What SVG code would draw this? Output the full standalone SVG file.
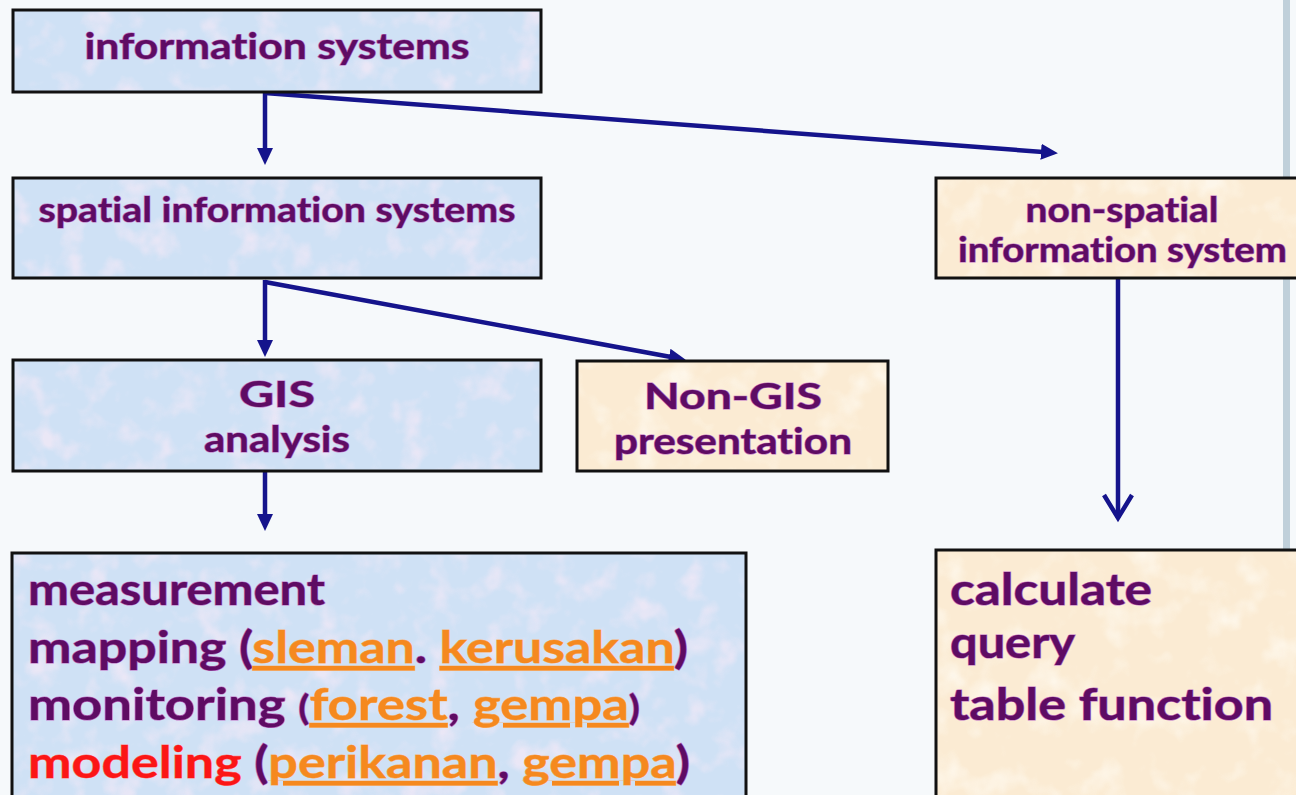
<svg xmlns="http://www.w3.org/2000/svg" width="1296" height="795" viewBox="0 0 1296 795">
  <defs>
    <filter id="texBlue" x="0" y="0" width="100%" height="100%">
      <feTurbulence type="fractalNoise" baseFrequency="0.035" numOctaves="3" seed="4" result="n"/>
      <feColorMatrix in="n" type="matrix" values="0 0 0 0 0.92  0 0 0 0 0.82  0 0 0 0 0.93  3 0 0 0 -1.5" result="c"/>
      <feComposite in="c" in2="SourceGraphic" operator="in"/>
    </filter>
    <filter id="texBeige" x="0" y="0" width="100%" height="100%">
      <feTurbulence type="fractalNoise" baseFrequency="0.03" numOctaves="3" seed="9" result="n"/>
      <feColorMatrix in="n" type="matrix" values="0 0 0 0 1  0 0 0 0 0.97  0 0 0 0 0.9  3 0 0 0 -1.55" result="c"/>
      <feComposite in="c" in2="SourceGraphic" operator="in"/>
    </filter>
    <marker id="tri" markerUnits="userSpaceOnUse" markerWidth="18" markerHeight="18" refX="2" refY="8" orient="auto" viewBox="0 0 18 16">
      <path d="M0,0 L17,8 L0,16 z" fill="#15148c"/>
    </marker>
    <marker id="vee" markerUnits="userSpaceOnUse" markerWidth="32" markerHeight="32" refX="26" refY="16" orient="auto" viewBox="0 0 32 32">
      <path d="M3,2 L26,16 L3,30" fill="none" stroke="#15148c" stroke-width="4.5" stroke-linejoin="miter"/>
    </marker>
  </defs>
  <style>
    .box { stroke: #111; stroke-width: 3; }
    .blue { fill: #cfe1f5; }
    .beige { fill: #fbebd3; }
    .tex { fill: #000; stroke: none; }
    .lbl { font-family: Lato, "Open Sans", "DejaVu Sans", sans-serif; font-weight: 700; font-variant-ligatures: none; fill: #5e0c63; stroke: #c070c4; stroke-width: 1.2; paint-order: stroke; }
    .or { fill: #f5891f; stroke: #f8b070; stroke-width: 0.8; text-decoration: underline; }
    .red { fill: #fb1616; stroke: #ff8080; stroke-width: 0.8; }
    .conn { stroke: #15148c; stroke-width: 4.5; fill: none; }
  </style>

  <rect x="0" y="0" width="1296" height="795" fill="#f6f9fb"/>
  <rect x="1283" y="0" width="7" height="552" fill="#c0d0da"/>

  <g id="connectors">
    <path class="conn" d="M265,93 L265,150" marker-end="url(#tri)"/>
    <path class="conn" d="M265,93 L1043,152" marker-end="url(#tri)"/>
    <path class="conn" d="M265,280 L265,342" marker-end="url(#tri)"/>
    <path class="conn" d="M265,282 L671,357" marker-end="url(#tri)"/>
    <path class="conn" d="M265,472 L265,516" marker-end="url(#tri)"/>
    <path class="conn" d="M1118,278 L1118,518" marker-end="url(#vee)"/>
  </g>

  <g id="node-information-systems">
    <rect class="box blue" x="13" y="10" width="528" height="82"/>
    <rect class="tex" x="15" y="12" width="524" height="78" filter="url(#texBlue)" opacity="0.7"/>
    <text class="lbl" x="277" y="59" font-size="37" text-anchor="middle" textLength="385" lengthAdjust="spacingAndGlyphs">information systems</text>
  </g>

  <g id="node-spatial">
    <rect class="box blue" x="13" y="178" width="528" height="100"/>
    <rect class="tex" x="15" y="180" width="524" height="96" filter="url(#texBlue)" opacity="0.7"/>
    <text class="lbl" x="277" y="222" font-size="34" text-anchor="middle" textLength="477" lengthAdjust="spacingAndGlyphs">spatial information systems</text>
  </g>

  <g id="node-gis">
    <rect class="box blue" x="13" y="360" width="528" height="111"/>
    <rect class="tex" x="15" y="362" width="524" height="107" filter="url(#texBlue)" opacity="0.7"/>
    <text class="lbl" x="277" y="407" font-size="36" text-anchor="middle" textLength="76" lengthAdjust="spacingAndGlyphs">GIS</text>
    <text class="lbl" x="277" y="452" font-size="36" text-anchor="middle" textLength="146" lengthAdjust="spacingAndGlyphs">analysis</text>
  </g>

  <g id="node-non-gis">
    <rect class="box beige" x="577" y="361" width="311" height="110"/>
    <rect class="tex" x="579" y="363" width="307" height="106" filter="url(#texBeige)" opacity="0.7"/>
    <text class="lbl" x="733" y="409" font-size="37" text-anchor="middle" textLength="178" lengthAdjust="spacingAndGlyphs">Non-GIS</text>
    <text class="lbl" x="733" y="454" font-size="37" text-anchor="middle" textLength="238" lengthAdjust="spacingAndGlyphs">presentation</text>
  </g>

  <g id="node-non-spatial">
    <rect class="box beige" x="936" y="178" width="380" height="100"/>
    <rect class="tex" x="938" y="180" width="376" height="96" filter="url(#texBeige)" opacity="0.7"/>
    <text class="lbl" x="1122" y="222" font-size="34" text-anchor="middle" textLength="193" lengthAdjust="spacingAndGlyphs">non-spatial</text>
    <text class="lbl" x="958" y="262" font-size="34" textLength="329" lengthAdjust="spacingAndGlyphs">information system</text>
  </g>

  <g id="node-gis-functions">
    <rect class="box blue" x="12" y="553" width="734" height="260"/>
    <rect class="tex" x="14" y="555" width="730" height="240" filter="url(#texBlue)" opacity="0.7"/>
    <text class="lbl" x="28" y="605" font-size="44" textLength="297" lengthAdjust="spacingAndGlyphs">measurement</text>
    <text class="lbl" x="28" y="663" font-size="44" textLength="660" lengthAdjust="spacingAndGlyphs">mapping (<tspan class="or">sleman</tspan>. <tspan class="or">kerusakan</tspan>)</text>
    <text class="lbl" x="28" y="720" font-size="44" textLength="612" lengthAdjust="spacingAndGlyphs">monitoring <tspan font-size="34">(</tspan><tspan class="or">forest</tspan>, <tspan class="or">gempa</tspan><tspan font-size="34">)</tspan></text>
    <text class="lbl" x="28" y="778" font-size="44" textLength="662" lengthAdjust="spacingAndGlyphs"><tspan class="red">modeling</tspan> (<tspan class="or">perikanan</tspan>, <tspan class="or">gempa</tspan>)</text>
  </g>

  <g id="node-table-functions">
    <rect class="box beige" x="936" y="550" width="380" height="260"/>
    <rect class="tex" x="938" y="552" width="376" height="243" filter="url(#texBeige)" opacity="0.7"/>
    <text class="lbl" x="950" y="605" font-size="44" textLength="202" lengthAdjust="spacingAndGlyphs">calculate</text>
    <text class="lbl" x="950" y="658" font-size="44" textLength="125" lengthAdjust="spacingAndGlyphs">query</text>
    <text class="lbl" x="950" y="720" font-size="44" textLength="323" lengthAdjust="spacingAndGlyphs">table function</text>
  </g>
</svg>
